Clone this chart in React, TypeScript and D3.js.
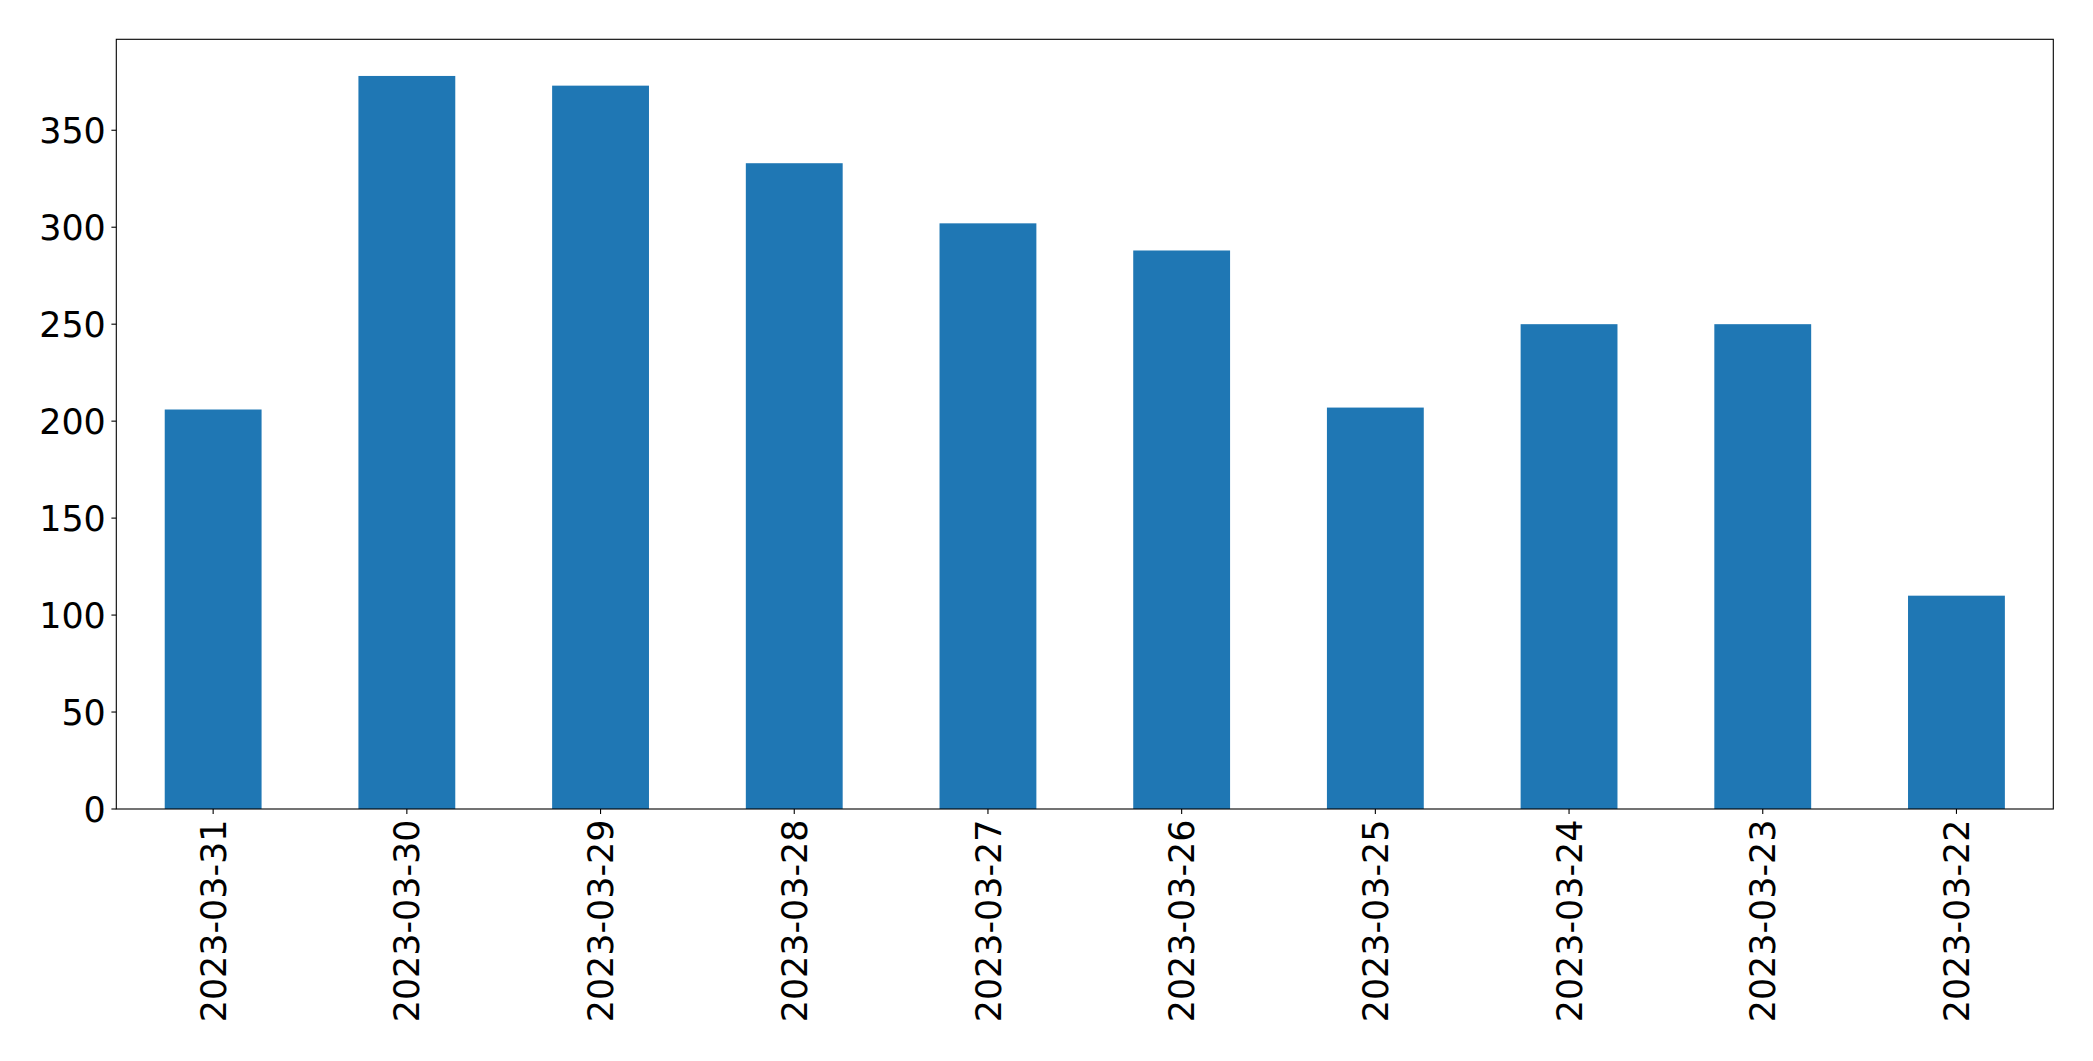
import React, { useEffect, useRef } from "react";
import * as d3 from "d3";

const dates = [
  "2023-03-31",
  "2023-03-30",
  "2023-03-29",
  "2023-03-28",
  "2023-03-27",
  "2023-03-26",
  "2023-03-25",
  "2023-03-24",
  "2023-03-23",
  "2023-03-22",
];
const counts = [206, 378, 373, 333, 302, 288, 207, 250, 250, 110];
const yTicks = [0, 50, 100, 150, 200, 250, 300, 350];

export default function App() {
  const refElement = useRef<SVGSVGElement | null>(null);

  useEffect(() => {
    if (!refElement.current) return;
    const W = 2093,
      H = 1061;
    const margin = { top: 39.3, right: 39.7, bottom: 252, left: 116.3 };
    const width = W - margin.left - margin.right,
      height = H - margin.top - margin.bottom;
    const font = "'DejaVu Sans', sans-serif";
    const fontSize = 34.9;

    const svg = d3.select(refElement.current);
    svg.selectAll("*").remove();

    const chart = svg
      .append("g")
      .attr("transform", `translate(${margin.left},${margin.top})`);

    // pandas style: categories at 0..n-1, bars 0.5 wide, limits at -0.5 / n-0.5
    const x = d3
      .scaleLinear()
      .domain([-0.5, dates.length - 0.5])
      .range([0, width]);
    const y = d3
      .scaleLinear()
      .domain([0, (d3.max(counts) as number) * 1.05])
      .range([height, 0]);

    chart
      .selectAll(".bar")
      .data(counts)
      .enter()
      .append("rect")
      .attr("class", "bar")
      .attr("x", (d, i) => x(i - 0.25))
      .attr("width", x(0.25) - x(-0.25))
      .attr("y", d => y(d))
      .attr("height", d => height - y(d))
      .attr("fill", "#1f77b4");

    // y axis ticks + labels
    const yAxis = chart.append("g");
    yAxis
      .selectAll("line")
      .data(yTicks)
      .enter()
      .append("line")
      .attr("x1", -4.9)
      .attr("x2", 0)
      .attr("y1", d => y(d))
      .attr("y2", d => y(d))
      .attr("stroke", "#000")
      .attr("stroke-width", 1.1);
    yAxis
      .selectAll("text")
      .data(yTicks)
      .enter()
      .append("text")
      .attr("x", -10.5)
      .attr("y", d => y(d))
      .attr("dy", "0.36em")
      .attr("text-anchor", "end")
      .attr("font-family", font)
      .attr("font-size", fontSize)
      .attr("fill", "#000")
      .text(d => String(d));

    // x axis ticks + rotated labels
    const xAxis = chart.append("g").attr("transform", `translate(0,${height})`);
    xAxis
      .selectAll("line")
      .data(dates)
      .enter()
      .append("line")
      .attr("x1", (d, i) => x(i))
      .attr("x2", (d, i) => x(i))
      .attr("y1", 0)
      .attr("y2", 4.9)
      .attr("stroke", "#000")
      .attr("stroke-width", 1.1);
    xAxis
      .selectAll("text")
      .data(dates)
      .enter()
      .append("text")
      .attr(
        "transform",
        (d, i) => `translate(${x(i)},${10.5}) rotate(-90)`
      )
      .attr("dy", "0.36em")
      .attr("text-anchor", "end")
      .attr("font-family", font)
      .attr("font-size", fontSize)
      .attr("fill", "#000")
      .text(d => d);

    // frame
    chart
      .append("rect")
      .attr("x", 0)
      .attr("y", 0)
      .attr("width", width)
      .attr("height", height)
      .attr("fill", "none")
      .attr("stroke", "#000")
      .attr("stroke-width", 1.1);
  });

  return (
    <svg
      ref={refElement}
      width={2093}
      height={1061}
      style={{ position: "absolute", left: 0, top: 0, background: "#fff" }}
    />
  );
}
